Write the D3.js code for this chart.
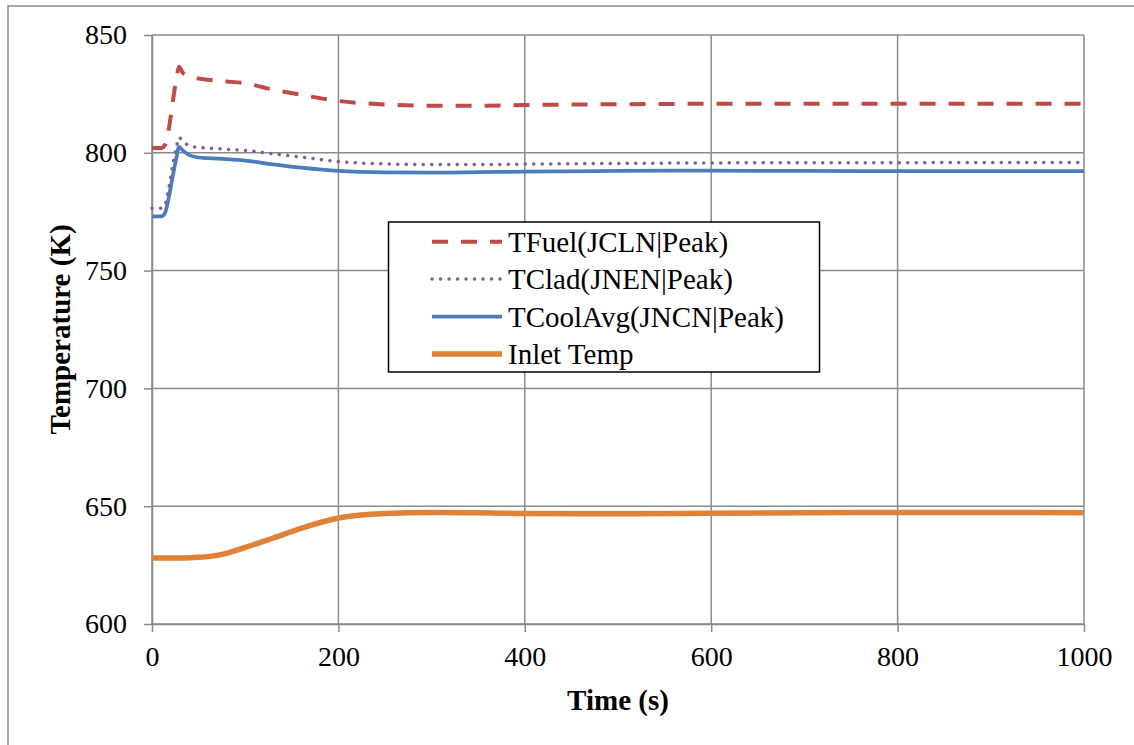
<!DOCTYPE html>
<html>
<head>
<meta charset="utf-8">
<script src="https://cdn.jsdelivr.net/npm/d3@7"></script>
<style>
  html, body { margin: 0; padding: 0; background: #fff; }
  svg { display: block; }
</style>
</head>
<body>
<svg id="chart" width="1134" height="745"></svg>
<script>
// Time samples (s)
const time = [0, 10, 14, 18, 22, 26, 29, 33, 40, 50, 60, 80, 100, 130, 160, 200, 250, 300, 350, 400, 500, 600, 700, 800, 900, 1000];

// Temperatures (K)
const tFuel = [802, 802, 803.5, 810, 821, 831, 836.5, 834, 832.5, 831.5, 831, 830.3, 829.5, 826.8, 824.6, 822, 820.5, 820, 820, 820.3, 820.6, 820.8, 820.8, 820.8, 820.8, 820.8];
const tClad = [776.5, 776.5, 778, 785, 794, 802, 806.5, 805, 803, 802.3, 802, 801.5, 801, 799.6, 798.2, 796.3, 795.3, 795, 795, 795.2, 795.5, 795.7, 795.8, 795.8, 795.9, 795.9];
const tCoolAvg = [773, 773, 774.5, 781, 789.5, 797.5, 802.5, 801, 799, 798, 797.7, 797.3, 796.7, 795.1, 793.7, 792.3, 791.7, 791.6, 791.8, 792, 792.3, 792.4, 792.3, 792.2, 792.2, 792.2];
const inletTemp = [628, 628, 628, 628, 628, 628, 628, 628, 628.1, 628.3, 628.6, 630, 632.5, 636.5, 640.6, 645, 646.9, 647.3, 647.2, 646.9, 646.8, 647, 647.2, 647.3, 647.3, 647.2];

const seriesNames = ["TFuel(JCLN|Peak)", "TClad(JNEN|Peak)", "TCoolAvg(JNCN|Peak)", "Inlet Temp"];
const xTicks = [0, 200, 400, 600, 800, 1000];
const yTicks = [600, 650, 700, 750, 800, 850];

const FONT = "'Liberation Serif', 'Times New Roman', Times, 'DejaVu Serif', serif";

const series = [
  { name: seriesNames[0], values: tFuel,     color: "#BE4B48", width: 4,    dash: "16 13", cap: "butt" },
  { name: seriesNames[1], values: tClad,     color: "#7D5FA0", width: 3.5,  dash: "0.1 8.4", cap: "round" },
  { name: seriesNames[2], values: tCoolAvg,  color: "#4A7EBB", width: 3.75, dash: null, cap: "butt" },
  { name: seriesNames[3], values: inletTemp, color: "#E08135", width: 5.5,  dash: null, cap: "butt" }
];

const svg = d3.select("#chart");
const plot = { left: 152, top: 35, right: 1084, bottom: 624 };

// Outer frame (left and top edges)
svg.append("path")
  .attr("d", "M8,745 V6 H1134")
  .attr("fill", "none")
  .attr("stroke", "#8a8a8a")
  .attr("stroke-width", 1.5);

const x = d3.scaleLinear().domain([0, 1000]).range([plot.left, plot.right]);
const y = d3.scaleLinear().domain([600, 850]).range([plot.bottom, plot.top]);

const gridColor = "#8a8a8a";

// Gridlines
const grid = svg.append("g");
grid.selectAll("line.h").data(yTicks).join("line")
  .attr("x1", plot.left).attr("x2", plot.right)
  .attr("y1", d => y(d)).attr("y2", d => y(d))
  .attr("stroke", gridColor).attr("stroke-width", 1.5);
grid.selectAll("line.v").data(xTicks).join("line")
  .attr("y1", plot.top).attr("y2", plot.bottom)
  .attr("x1", d => x(d)).attr("x2", d => x(d))
  .attr("stroke", gridColor).attr("stroke-width", 1.5);

// Axes
const xAxis = svg.append("g")
  .attr("transform", `translate(0,${plot.bottom})`)
  .call(d3.axisBottom(x).tickValues(xTicks).tickFormat(d3.format("d"))
    .tickSize(8).tickPadding(14).tickSizeOuter(0));
const yAxis = svg.append("g")
  .attr("transform", `translate(${plot.left},0)`)
  .call(d3.axisLeft(y).tickValues(yTicks).tickFormat(d3.format("d"))
    .tickSize(8).tickPadding(17).tickSizeOuter(0));

[xAxis, yAxis].forEach(a => {
  a.attr("font-family", FONT).attr("font-size", 28);
  a.select(".domain").attr("stroke", gridColor).attr("stroke-width", 1.5);
  a.selectAll(".tick line").attr("stroke", gridColor).attr("stroke-width", 1.5);
  a.selectAll(".tick text").attr("fill", "#000");
});

// Series lines
const line = d3.line()
  .x((d, i) => x(time[i]))
  .y(d => y(d))
  .curve(d3.curveMonotoneX);

series.slice().reverse().forEach(s => {
  svg.append("path")
    .datum(s.values)
    .attr("d", line)
    .attr("fill", "none")
    .attr("stroke", s.color)
    .attr("stroke-width", s.width)
    .attr("stroke-linecap", s.cap)
    .attr("stroke-linejoin", "round")
    .attr("stroke-dasharray", s.dash);
});

// Axis titles
svg.append("text")
  .attr("x", 618).attr("y", 710)
  .attr("text-anchor", "middle")
  .attr("font-family", FONT).attr("font-size", 29).attr("font-weight", "bold")
  .text("Time (s)");
svg.append("text")
  .attr("transform", `translate(70,${(plot.top + plot.bottom) / 2}) rotate(-90)`)
  .attr("text-anchor", "middle")
  .attr("font-family", FONT).attr("font-size", 29).attr("font-weight", "bold")
  .text("Temperature (K)");

// Legend
const legend = svg.append("g");
legend.append("rect")
  .attr("x", 388.5).attr("y", 222)
  .attr("width", 431).attr("height", 150)
  .attr("fill", "#fff").attr("stroke", "#000").attr("stroke-width", 1.5);

series.forEach((s, i) => {
  const cy = 241.7 + i * 37.4;
  legend.append("line")
    .attr("x1", 432).attr("x2", 502)
    .attr("y1", cy).attr("y2", cy)
    .attr("stroke", s.color)
    .attr("stroke-width", s.width)
    .attr("stroke-linecap", s.cap)
    .attr("stroke-dasharray", s.dash);
  legend.append("text")
    .attr("x", 508).attr("y", cy)
    .attr("dy", "0.35em")
    .attr("font-family", FONT).attr("font-size", 29)
    .text(s.name);
});
</script>
</body>
</html>
